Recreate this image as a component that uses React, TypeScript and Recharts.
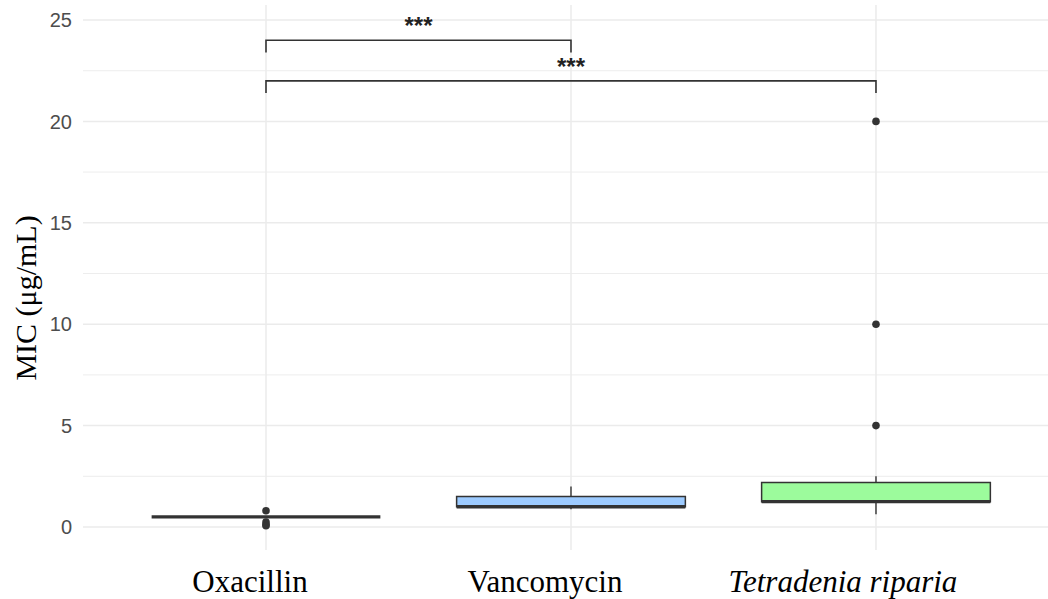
import React from 'react';
import {
  ComposedChart, XAxis, YAxis, CartesianGrid, Scatter, Line,
  ReferenceArea, ReferenceLine, ReferenceDot,
} from 'recharts';

// ---------------- data ----------------
const categories = ['Oxacillin', 'Vancomycin', 'Tetradenia riparia'];
const italicCategory = [false, false, true];
const lowerWhisker = [0.5, 0.875, 0.625];
const q1 = [0.5, 1.0, 1.25];
const median = [0.5, 1.0, 1.25];
const q3 = [0.5, 1.5, 2.2];
const upperWhisker = [0.5, 2.0, 2.5];
const outlierValues = [[0.8, 0.25, 0.12, 0.06], [], [5, 10, 20]];
const boxFill = ['#F8766D', '#9DCBFF', '#9CFB9C'];
const yTicks = [0, 5, 10, 15, 20, 25];
const yMinorGrid = [2.5, 7.5, 12.5, 17.5, 22.5];
const comparisons = [
  { from: 1, to: 2, y: 24.0, tip: 23.4, label: '***' },
  { from: 1, to: 3, y: 22.0, tip: 21.4, label: '***' },
];

// ---------------- style ----------------
const labelNudge = [-16, -26, -33]; // horizontal nudge of category labels (px)
const HALF = 0.375;
const INK = '#333333';
const SERIF = "'Liberation Serif', 'Times New Roman', serif";
const SANS = "'Liberation Sans', Arial, sans-serif";

// ---------------- derived ----------------
const positions = categories.map((_, i) => i + 1);
const outlierPoints = outlierValues.flatMap((vals, i) => vals.map((v) => ({ x: i + 1, y: v })));
const bracketSeries = comparisons.map((c) => [
  { x: c.from, y: c.tip },
  { x: c.from, y: c.y },
  { x: c.to, y: c.y },
  { x: c.to, y: c.tip },
]);

const XTick = (props: any) => {
  const { x, y, payload } = props;
  const i = positions.indexOf(payload.value);
  return (
    <text
      x={x + (labelNudge[i] || 0)}
      y={y + 40}
      textAnchor="middle"
      fill="#000"
      fontFamily={SERIF}
      fontSize={31}
      fontStyle={italicCategory[i] ? 'italic' : 'normal'}
    >
      {categories[i]}
    </text>
  );
};

const YTitle = (props: any) => {
  const vb = props.viewBox;
  const cx = 25;
  const cy = vb.y + 293;
  return (
    <text
      x={cx}
      y={cy}
      transform={`rotate(-90, ${cx}, ${cy})`}
      textAnchor="middle"
      dominantBaseline="central"
      fill="#000"
      fontFamily={SERIF}
      fontSize={30}
    >
      MIC (μg/mL)
    </text>
  );
};

export default function App() {
  return (
    <div style={{ position: 'absolute', left: 0, top: 0, width: 1048, height: 599, background: '#fff' }}>
      <ComposedChart width={1048} height={599} margin={{ top: 5, right: 0, bottom: 0, left: 0 }}>
        <CartesianGrid
          stroke="#EBEBEB"
          strokeWidth={0.9}
          horizontalValues={yMinorGrid}
          vertical={false}
        />
        <CartesianGrid
          stroke="#EBEBEB"
          strokeWidth={1.5}
          horizontalValues={yTicks}
          verticalValues={positions}
        />
        <XAxis
          type="number"
          dataKey="x"
          domain={[0.4, 3.564]}
          ticks={positions}
          allowDataOverflow
          axisLine={false}
          tickLine={false}
          tickSize={0}
          height={49}
          tick={<XTick />}
          interval={0}
        />
        <YAxis
          type="number"
          dataKey="y"
          domain={[-1.134, 25.74]}
          ticks={yTicks}
          allowDataOverflow
          axisLine={false}
          tickLine={false}
          tickSize={0}
          tickMargin={11}
          width={83}
          interval={0}
          tick={{ fill: '#4D4D4D', fontSize: 20, fontFamily: SANS }}
          label={<YTitle />}
        />

        {positions.map((p, i) => (
          <ReferenceLine
            key={`wu${i}`}
            segment={[{ x: p, y: q3[i] }, { x: p, y: upperWhisker[i] }]}
            stroke={INK}
            strokeWidth={1.4}
          />
        ))}
        {positions.map((p, i) => (
          <ReferenceLine
            key={`wl${i}`}
            segment={[{ x: p, y: q1[i] }, { x: p, y: lowerWhisker[i] }]}
            stroke={INK}
            strokeWidth={1.4}
          />
        ))}
        {positions.map((p, i) => (
          <ReferenceArea
            key={`box${i}`}
            x1={p - HALF}
            x2={p + HALF}
            y1={q1[i]}
            y2={q3[i]}
            fill={boxFill[i]}
            fillOpacity={1}
            stroke={INK}
            strokeWidth={1.5}
          />
        ))}
        {positions.map((p, i) => (
          <ReferenceLine
            key={`med${i}`}
            segment={[{ x: p - HALF, y: median[i] }, { x: p + HALF, y: median[i] }]}
            stroke={INK}
            strokeWidth={3.4}
          />
        ))}

        <Scatter
          data={outlierPoints}
          dataKey="y"
          fill={INK}
          isAnimationActive={false}
          shape={(props: any) => <circle cx={props.cx} cy={props.cy} r={3.8} fill={INK} />}
        />

        {bracketSeries.map((pts, k) => (
          <Line
            key={`br${k}`}
            data={pts}
            dataKey="y"
            type="linear"
            stroke={INK}
            strokeWidth={1.6}
            dot={false}
            activeDot={false}
            isAnimationActive={false}
          />
        ))}
        {comparisons.map((c, k) => (
          <ReferenceDot
            key={`sig${k}`}
            x={(c.from + c.to) / 2}
            y={c.y}
            r={0}
            stroke="none"
            fill="none"
            label={{
              value: c.label,
              position: 'top',
              offset: 6,
              fill: '#222222',
              fontSize: 24,
              fontWeight: 'bold',
              fontFamily: SANS,
            }}
          />
        ))}
      </ComposedChart>
    </div>
  );
}
